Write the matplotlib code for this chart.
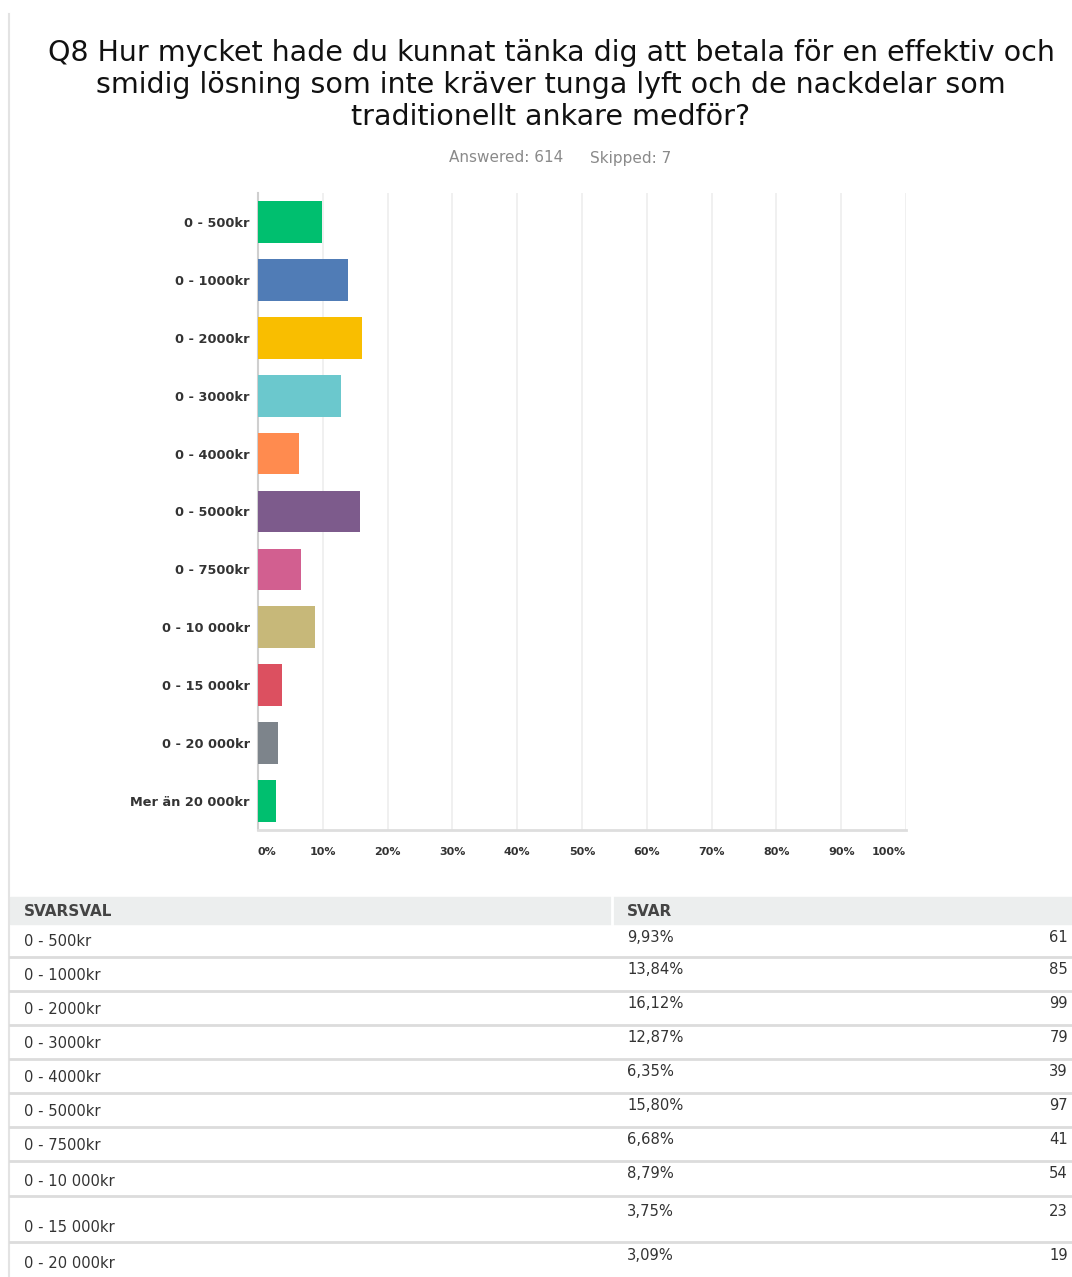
import matplotlib.pyplot as plt
from matplotlib.patches import Rectangle
from matplotlib.lines import Line2D

# Svarsalternativ och andelar (procent) samt antal svar
categories = ["0 - 500kr", "0 - 1000kr", "0 - 2000kr", "0 - 3000kr", "0 - 4000kr",
              "0 - 5000kr", "0 - 7500kr", "0 - 10 000kr", "0 - 15 000kr",
              "0 - 20 000kr", "Mer än 20 000kr"]
percent = [9.93, 13.84, 16.12, 12.87, 6.35, 15.80, 6.68, 8.79, 3.75, 3.09, 2.77]
counts = [61, 85, 99, 79, 39, 97, 41, 54, 23, 19, 17]
colors = ["#00bf6f", "#507cb6", "#f9be00", "#6bc8cd", "#ff8b4f", "#7d5b8c",
          "#d25f90", "#c7b879", "#dc5060", "#7d848b", "#00bf6f"]
x_ticks = [0, 10, 20, 30, 40, 50, 60, 70, 80, 90, 100]
x_tick_labels = [f"{t}%" for t in x_ticks]

title_lines = ["Q8 Hur mycket hade du kunnat tänka dig att betala för en effektiv och",
               "smidig lösning som inte kräver tunga lyft och de nackdelar som",
               "traditionellt ankare medför?"]
answered, skipped = 614, 7

W, H = 1072, 1277
fig = plt.figure(figsize=(W / 100, H / 100), dpi=100)
FONT = "DejaVu Sans"


def fx(x):
    return x / W


def fy(y):
    return 1 - y / H


# left page border
fig.add_artist(Line2D([fx(9), fx(9)], [fy(14), 0], color="#e3e3e3", lw=1.5))

# title + subtitle
for i, line in enumerate(title_lines):
    fig.text(fx(551), fy(53 + 32 * i), line, ha="center", va="center",
             fontsize=20.5, family=FONT, color="#111111")
fig.text(fx(563), fy(158), f"Answered: {answered}", ha="right", va="center",
         fontsize=11, family=FONT, color="#8a8a8a")
fig.text(fx(590), fy(158), f"Skipped: {skipped}", ha="left", va="center",
         fontsize=11, family=FONT, color="#8a8a8a")

# bar chart
ax = fig.add_axes([fx(258), fy(830), fx(906) - fx(258), (830 - 193) / H])
ypos = list(range(len(categories)))
ax.barh(ypos, percent, height=0.72, color=colors, zorder=3)
ax.set_xlim(0, 100)
ax.set_ylim(len(categories) - 0.5, -0.5)
ax.set_yticks(ypos)
ax.set_yticklabels(categories, fontsize=9.3, fontweight="bold",
                   family=FONT, color="#333333")
ax.set_xticks(x_ticks)
ax.set_xticklabels(x_tick_labels, fontsize=8, fontweight="bold",
                   family=FONT, color="#333333")
ax.tick_params(axis="y", length=0, pad=6)
ax.tick_params(axis="x", length=0, pad=12)
xl = ax.get_xticklabels()
xl[0].set_ha("left")
xl[-1].set_ha("right")
ax.grid(axis="x", color="#eeeeee", lw=1.2, zorder=0)
for s in ["top", "right"]:
    ax.spines[s].set_visible(False)
ax.spines["left"].set_color("#cfcfcf")
ax.spines["bottom"].set_color("#dedede")
ax.spines["left"].set_linewidth(1.5)
ax.spines["bottom"].set_linewidth(2)

# summary table
fig.add_artist(Rectangle((fx(10), fy(924)), 1 - fx(10), (924 - 897) / H,
                         color="#eceeee", zorder=0))
fig.add_artist(Line2D([fx(612), fx(612)], [fy(897), fy(924)], color="white", lw=2))
fig.text(fx(24), fy(911), "SVARSVAL", ha="left", va="center", fontsize=11,
         fontweight="bold", family=FONT, color="#444444")
fig.text(fx(627), fy(911), "SVAR", ha="left", va="center", fontsize=11,
         fontweight="bold", family=FONT, color="#444444")

row_bounds = [924, 957, 991, 1025, 1059, 1093, 1127, 1161, 1196, 1242, 1278]
for i in range(len(row_bounds) - 1):
    top, bot = row_bounds[i], row_bounds[i + 1]
    label_y = bot - 15
    value_y = top + 13 if bot - top < 40 else top + 15
    fig.text(fx(24), fy(label_y), categories[i], ha="left", va="center",
             fontsize=10.6, family=FONT, color="#333333")
    fig.text(fx(627), fy(value_y), f"{percent[i]:.2f}%".replace(".", ","),
             ha="left", va="center", fontsize=10.6, family=FONT,
             color="#333333")
    fig.text(fx(1068), fy(value_y), str(counts[i]), ha="right", va="center",
             fontsize=10.6, family=FONT, color="#333333")
    if bot < H:
        fig.add_artist(Line2D([fx(10), 1], [fy(bot), fy(bot)], color="#dcdcdc", lw=2))

fig.savefig("out.png", dpi=100)
